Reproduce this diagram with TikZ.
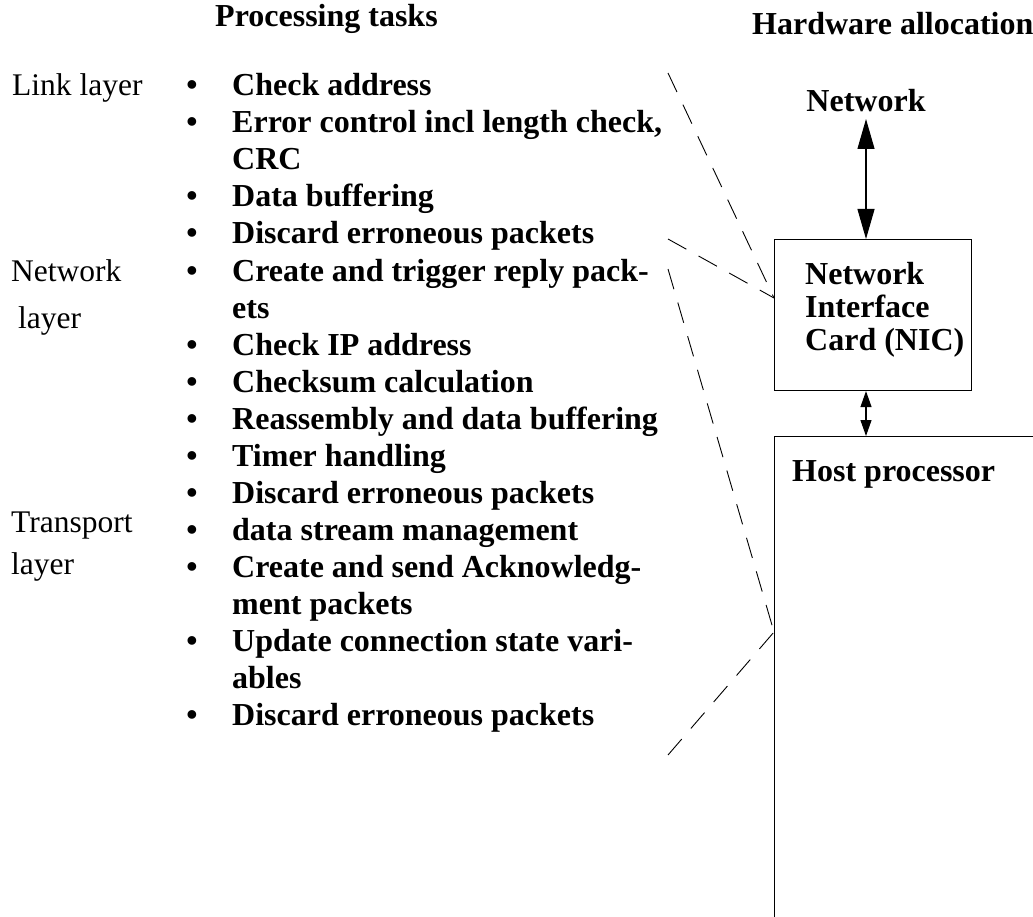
\documentclass[tikz,border=0pt]{standalone}
\usepackage{fontspec}
\setmainfont{Liberation Serif}
\usetikzlibrary{arrows.meta}

\tikzset{
  txt/.style={anchor=base west, inner sep=0pt, font=\fontsize{31.5}{37}\selectfont},
  btxt/.style={txt, font=\fontsize{32}{37}\selectfont\bfseries},
  bul/.style={anchor=base, inner sep=0pt, font=\fontsize{32}{37}\selectfont\bfseries},
  frame/.style={draw, line width=1.1pt, inner sep=0pt, minimum width=197pt, minimum height=151pt, anchor=north west},
  link/.style={line width=0.9pt, dash pattern=on 21pt off 14pt},
  bigarrow/.style={line width=1.1pt, {Triangle[length=30pt,width=17pt]}-{Triangle[length=30pt,width=17pt]}},
  smallarrow/.style={line width=1.1pt, {Triangle[length=16pt,width=11pt]}-{Triangle[length=16pt,width=11pt]}}
}

\begin{document}
\begin{tikzpicture}[x=1pt,y=-1pt]
\useasboundingbox (0,0) rectangle (1033,917);
\clip (0,0) rectangle (1033,917);

% column headings
\node[btxt] (hproc) at (215,27) {Processing tasks};
\node[btxt] (hhw) at (752,35) {Hardware allocation};

% protocol layers
\node[txt] (llink) at (12,96) {Link layer};
\node[txt] (lnet) at (11,281) {Network};
\node[txt] (lnet2) at (18,328) {layer};
\node[txt] (ltrans) at (11,532) {Transport};
\node[txt] (ltrans2) at (11,574) {layer};

% processing tasks
\foreach \y/\t [count=\i] in {
  96/{Check address},
  133/{Error control incl length check,},
  207/{Data buffering},
  244/{Discard erroneous packets},
  281/{Create and trigger reply pack-},
  355/{Check IP address},
  392/{Checksum calculation},
  429/{Reassembly and data buffering},
  466/{Timer handling},
  503/{Discard erroneous packets},
  540/{data stream management},
  577/{Create and send Acknowledg-},
  651/{Update connection state vari-},
  725/{Discard erroneous packets}}{
  \node[bul] (b\i) at (192,\y) {\textbullet};
  \node[btxt] (t\i) at (232,\y) {\t};
}
\node[btxt] (c1) at (232,170) {CRC};
\node[btxt] (c2) at (232,318) {ets};
\node[btxt] (c3) at (232,614) {ment packets};
\node[btxt] (c4) at (232,688) {ables};

% hardware
\node[btxt, anchor=base] (net) at (866,112) {Network};
\node[frame] (nic) at (774,239) {};
\node[btxt] (nic1) at (805,284) {Network};
\node[btxt] (nic2) at (805,317) {Interface};
\node[btxt] (nic3) at (805,350) {Card (NIC)};
\node[frame, minimum width=300pt, minimum height=520pt] (host) at (774,436) {};
\node[btxt] (hostl) at (792,481) {Host processor};

\draw[bigarrow] (net.base |- 0,119) -- (net.base |- nic.north);
\draw[smallarrow] (net.base |- nic.south) -- (net.base |- host.north);

% mapping of tasks onto hardware
\coordinate (a1) at (668,73);
\coordinate (a2) at (668,239);
\coordinate (a3) at (668,269);
\coordinate (a4) at (668,755);
\coordinate (nicin) at (nic.west |- 0,298);
\coordinate (hostin) at (host.west |- 0,632);
\draw[link] (a1) -- (nicin);
\draw[link] (a2) -- (nicin);
\draw[link] (a3) -- (hostin);
\draw[link] (a4) -- (hostin);
\end{tikzpicture}
\end{document}
